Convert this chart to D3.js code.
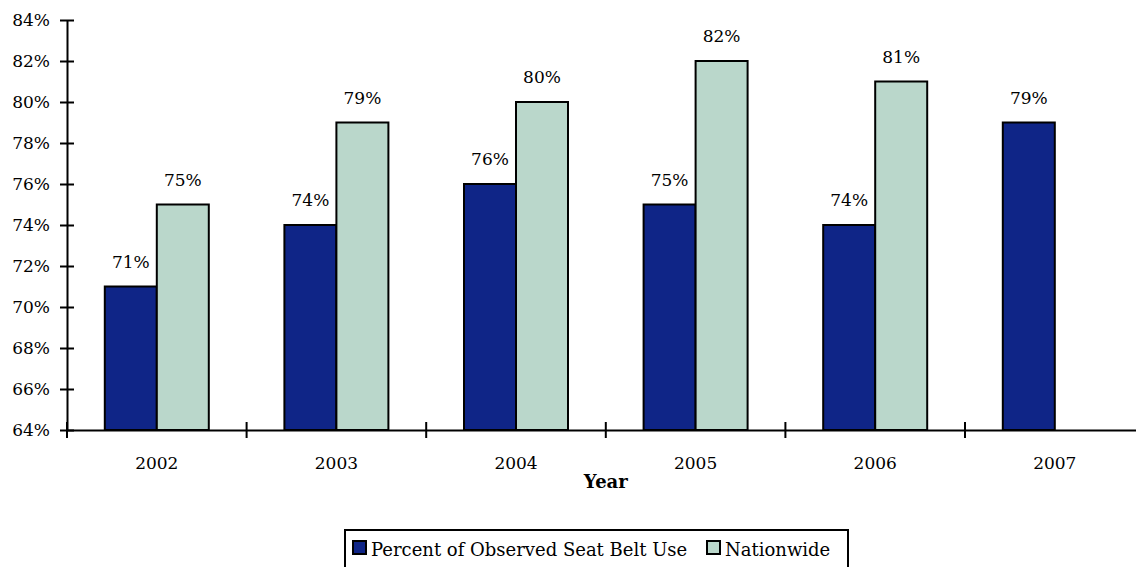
<!DOCTYPE html>
<html><head><meta charset="utf-8">
<script src="https://cdn.jsdelivr.net/npm/d3@7"></script>
<style>body{margin:0;background:#fff;}svg{display:block;}</style>
</head><body>
<svg id="c" width="1136" height="567"></svg>
<script>
const years = ["2002","2003","2004","2005","2006","2007"];
const seatBelt = [71,74,76,75,74,79];
const nationwide = [75,79,80,82,81,null];
const seriesNames = ["Percent of Observed Seat Belt Use","Nationwide"];
const colors = ["#0f2587","#bad7cb"];
const yTicks = [64,66,68,70,72,74,76,78,80,82,84];

const svg = d3.select("#c");
const x0 = 67, catW = 179.6;
const x = d3.scaleBand().domain(years).range([x0, x0 + catW*years.length]).paddingInner(0).paddingOuter(0);
const y = d3.scaleLinear().domain([64,84]).range([430,20]);
const barW = 52;
const serifAxis = "DejaVu Serif, serif";

const rows = years.map((yr,i)=>({yr, vals:[seatBelt[i], nationwide[i]]}));
rows.forEach(r=>{
  r.vals.forEach((v,k)=>{
    if(v==null) return;
    const bx = x(r.yr) + x.bandwidth()/2 - barW + k*barW;
    svg.append("rect").attr("x",bx).attr("y",y(v)).attr("width",barW).attr("height",y(64)-y(v))
      .attr("fill",colors[k]).attr("stroke","#000").attr("stroke-width",2);
    svg.append("text").attr("x",bx+barW/2).attr("y",y(v)-19).attr("text-anchor","middle")
      .style("font-family",serifAxis).style("font-size","17px").text(v+"%");
  });
});

const yAx = svg.append("g").attr("transform",`translate(${x0},0)`)
  .call(d3.axisLeft(y).tickValues(yTicks).tickFormat(d=>d+"%").tickSize(7).tickSizeOuter(0));
yAx.attr("font-family",null);
yAx.select(".domain").attr("stroke","#000").attr("stroke-width",2);
yAx.selectAll(".tick line").attr("x1",-7).attr("x2",7).attr("stroke","#000").attr("stroke-width",2);
yAx.selectAll(".tick text").attr("x",-17).style("font-family",serifAxis).style("font-size","17px").attr("fill","#000");

const xAx = svg.append("g").attr("transform",`translate(0,${y(64)})`)
  .call(d3.axisBottom(x).tickSize(0).tickSizeOuter(0));
xAx.attr("font-family",null);
xAx.select(".domain").attr("stroke","#000").attr("stroke-width",2);
xAx.selectAll(".tick text").attr("y",27).style("font-family",serifAxis).style("font-size","17px").attr("fill","#000");
const bounds = years.map(d=>x(d)).concat([x.range()[1]]);
xAx.selectAll(".bt").data(bounds).enter().append("line")
  .attr("x1",d=>d).attr("x2",d=>d).attr("y1",-8).attr("y2",8).attr("stroke","#000").attr("stroke-width",2);

svg.append("text").attr("x",(x.range()[0]+x.range()[1])/2).attr("y",488).attr("text-anchor","middle")
  .style("font-family",serifAxis).style("font-weight","bold").style("font-size","18px").text("Year");

const lg = svg.append("g");
lg.append("rect").attr("x",345).attr("y",530).attr("width",503).attr("height",50)
  .attr("fill","#fff").attr("stroke","#000").attr("stroke-width",2);
const legX = [353, 707];
seriesNames.forEach((n,k)=>{
  lg.append("rect").attr("x",legX[k]).attr("y",541).attr("width",13).attr("height",13)
    .attr("fill",colors[k]).attr("stroke","#000").attr("stroke-width",2);
  lg.append("text").attr("x",legX[k]+18).attr("y",556).style("font-family",serifAxis)
    .style("font-size","18px").text(n);
});
</script>
</body></html>
